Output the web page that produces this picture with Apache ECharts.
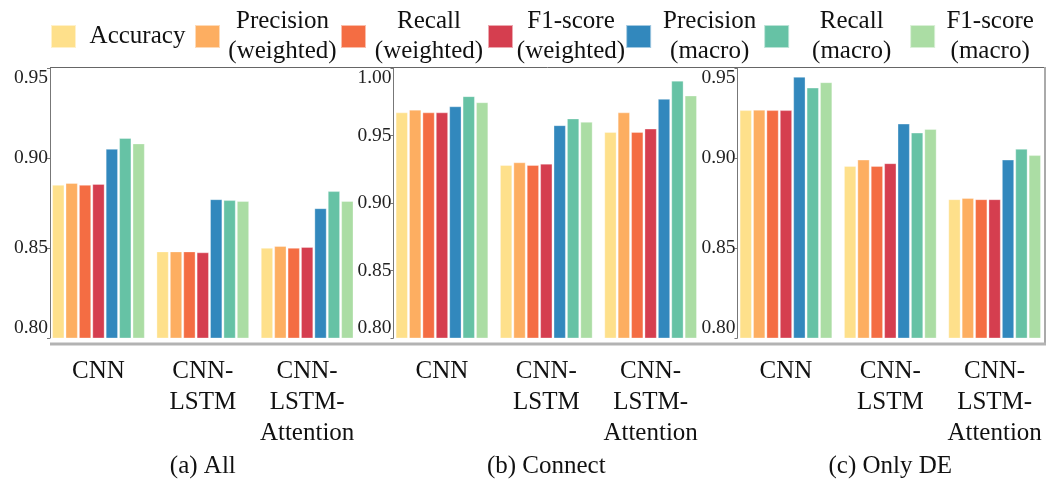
<!DOCTYPE html>
<html>
<head>
<meta charset="utf-8">
<script src="https://cdn.jsdelivr.net/npm/echarts@6/dist/echarts.min.js"></script>
<style>
  html, body { margin: 0; padding: 0; background: #fff; }
  #chart { width: 1054px; height: 490px; }
</style>
</head>
<body>
<div id="chart"></div>
<script>
// Models compared in every panel
const models = ['CNN', 'CNN-LSTM', 'CNN-LSTM-Attention'];
const modelLabels = ['CNN', 'CNN-\nLSTM', 'CNN-\nLSTM-\nAttention'];

// Metrics (legend entries), in drawing order
const metrics = [
  'Accuracy',
  'Precision\n(weighted)',
  'Recall\n(weighted)',
  'F1-score\n(weighted)',
  'Precision\n(macro)',
  'Recall\n(macro)',
  'F1-score\n(macro)'
];
const metricColors = ['#fee08b', '#fdae61', '#f46d43', '#d53e4f', '#3288bd', '#66c2a5', '#abdda4'];

// Panel titles
const panelTitles = ['(a) All', '(b) Connect', '(c) Only DE'];

// Scores per panel: one row per metric, one column per model
const scoresAll = [
  [0.885, 0.848, 0.850],
  [0.886, 0.848, 0.851],
  [0.885, 0.848, 0.850],
  [0.8855, 0.8475, 0.8505],
  [0.905, 0.877, 0.872],
  [0.911, 0.8765, 0.8815],
  [0.908, 0.876, 0.876]
];
const scoresConnect = [
  [0.967, 0.928, 0.9525],
  [0.969, 0.930, 0.967],
  [0.967, 0.928, 0.9525],
  [0.967, 0.929, 0.955],
  [0.9715, 0.9575, 0.977],
  [0.979, 0.9625, 0.9905],
  [0.9745, 0.960, 0.9795]
];
const scoresOnlyDE = [
  [0.9265, 0.8955, 0.877],
  [0.9267, 0.899, 0.8777],
  [0.9265, 0.8955, 0.877],
  [0.9265, 0.897, 0.877],
  [0.945, 0.919, 0.899],
  [0.939, 0.914, 0.905],
  [0.942, 0.916, 0.9015]
];

// Y-axis ranges per panel
const yMins = [0.80, 0.80, 0.80];
const yMaxs = [0.95, 1.00, 0.95];
const yStep = 0.05;

const panelScores = [scoresAll, scoresConnect, scoresOnlyDE];

const FONT = '"Liberation Serif", "Times New Roman", serif';
const axisX = [50, 393.5, 737.5];   // where each panel's value axis sits
const bandShift = 3.7;              // category band starts slightly left of the axis
const plotTop = 68, plotH = 270, plotW = 313;

const grids = axisX.map(x => ({ left: x - bandShift, top: plotTop, width: plotW, height: plotH }));

const xAxes = panelTitles.map((t, i) => ({
  type: 'category',
  gridIndex: i,
  data: models,
  axisLine: { show: false },
  axisTick: { show: false },
  axisLabel: {
    formatter: (v, idx) => modelLabels[idx],
    fontFamily: FONT, fontSize: 25, color: '#111',
    lineHeight: 31, margin: 18, interval: 0
  },
  name: t,
  nameLocation: 'middle',
  nameGap: 115,
  nameTextStyle: { fontFamily: FONT, fontSize: 25, color: '#111' }
}));

const yAxes = panelTitles.map((t, i) => ({
  type: 'value',
  gridIndex: i,
  min: yMins[i], max: yMaxs[i], interval: yStep,
  offset: -bandShift,
  splitLine: { show: false },
  axisLine: { show: true, lineStyle: { color: '#777', width: 1 } },
  axisTick: { show: true, length: 3, lineStyle: { color: '#777' } },
  axisLabel: {
    formatter: v => v.toFixed(2),
    fontFamily: FONT, fontSize: 19.5, color: '#222', margin: 2,
    verticalAlignMinLabel: 'bottom',
    verticalAlignMaxLabel: 'top'
  }
}));

const series = [];
panelScores.forEach((rows, p) => {
  rows.forEach((vals, m) => {
    series.push({
      type: 'bar',
      name: metrics[m],
      xAxisIndex: p, yAxisIndex: p,
      data: vals,
      barGap: '12%',
      barCategoryGap: '11.5%',
      itemStyle: { color: metricColors[m], borderColor: 'rgba(255,255,255,0.55)', borderWidth: 0.6 },
      emphasis: { disabled: true }
    });
  });
});

// Legend text boxes: width of each entry's label block
const legendWidths = [113, 115, 116, 106, 107, 115, 100];
const rich = {};
legendWidths.forEach((w, i) => {
  rich['k' + i] = { width: w, align: 'center', fontFamily: FONT, fontSize: 25, lineHeight: 30, color: '#111' };
});

const option = {
  backgroundColor: '#fff',
  animation: false,
  legend: {
    data: metrics,
    left: 50, top: 9, width: 1004,
    padding: 0,
    icon: 'rect',
    itemWidth: 25, itemHeight: 23,
    itemGap: 0,
    selectedMode: false,
    formatter: name => {
      const k = 'k' + metrics.indexOf(name);
      return name.split('\n').map(s => '{' + k + '|' + s + '}').join('\n');
    },
    textStyle: { rich: rich, fontFamily: FONT, fontSize: 25, color: '#111' }
  },
  grid: grids,
  xAxis: xAxes,
  yAxis: yAxes,
  series: series,
  graphic: [
    // panel frame: top edge, right edge and the grey baseline
    { type: 'line', shape: { x1: 50, y1: 67.5, x2: 1045, y2: 67.5 }, style: { stroke: '#666', lineWidth: 1 }, silent: true },
    { type: 'line', shape: { x1: 1045, y1: 67, x2: 1045, y2: 345 }, style: { stroke: '#aaa', lineWidth: 2 }, silent: true },
    { type: 'line', shape: { x1: 50, y1: 344, x2: 1046, y2: 344 }, style: { stroke: '#b3b3b3', lineWidth: 3 }, silent: true }
  ]
};

const chart = echarts.init(document.getElementById('chart'), null, { renderer: 'canvas' });
chart.setOption(option);
</script>
</body>
</html>
